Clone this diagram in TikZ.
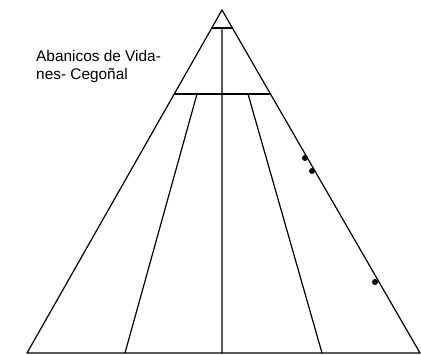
\documentclass[tikz,border=0pt]{standalone}
\usepackage{fontspec}
\setmainfont{Liberation Sans}
\usetikzlibrary{calc}
\begin{document}
\begin{tikzpicture}[x=1pt,y=-1pt,
  ln/.style={line width=1.2pt,line cap=round,line join=round},
  dot/.style={circle,fill=black,inner sep=0pt,minimum size=6pt},
  lbl/.style={anchor=base west,inner sep=0pt,font=\fontsize{15.4}{18}\selectfont}]
\useasboundingbox (0,0) rectangle (421,355);
% main triangle corners
\coordinate (A) at (222,10);
\coordinate (BL) at (27,353);
\coordinate (BR) at (420,353);
% small top triangle base and horizontal band
\coordinate (sL) at ($(A)!0.0525!(BL)$);
\coordinate (sR) at ($(A)!0.0525!(BR)$);
\coordinate (hL) at ($(A)!0.245!(BL)$);
\coordinate (hR) at ($(A)!0.245!(BR)$);
\coordinate (sM) at ($(sL)!0.5!(sR)$);
% inner fan lines
\coordinate (t1) at (197,94);
\coordinate (t2) at (248,94);
\coordinate (b1) at (125,353);
\coordinate (b2) at (322,353);
\coordinate (bM) at (222,353);
\draw[ln] (BL) -- (A) -- (BR) -- cycle;
\draw[ln] (sL) -- (sR);
\draw[ln] (hL) -- (hR);
\draw[ln] (sM) -- (bM);
\draw[ln] (t1) -- (b1);
\draw[ln] (t2) -- (b2);
% dots
\node[dot] (d1) at (305,158) {};
\node[dot] (d2) at (312,171) {};
\node[dot] (d3) at (375,282) {};
% label
\node[lbl] (l1) at (36,62) {Abanicos de Vida-};
\node[lbl] (l2) at (36,80) {nes- Cegoñal};
\end{tikzpicture}
\end{document}
